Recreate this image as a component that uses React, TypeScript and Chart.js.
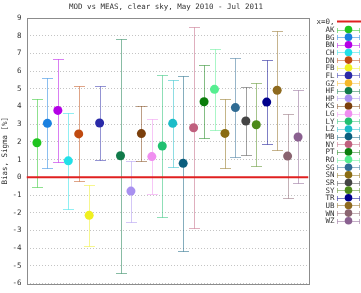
import { useEffect, useRef } from 'react';
import { Chart, registerables } from 'chart.js';
Chart.register(...registerables);

const titleText = 'MOD vs MEAS, clear sky, May 2010 - Jul 2011';
const yLabel = 'Bias, Sigma [%]';
const zeroLabel = 'x=0,';
const stations = ['AK','BG','BN','CH','DN','FB','FL','GZ','HF','HP','KS','LG','LY','LZ','MB','NY','PT','RO','SG','SN','SR','SY','TR','UB','WN','WZ'];
const positions = [1,2,3,4,5,6,7,8,9,10,11,12,13,14,15,16,17,18,20,19,21,22,23,24,25,26];
const bias: (number | null)[] = [1.95,3.05,3.78,0.93,2.45,-2.15,3.07,null,1.22,-0.78,2.47,1.17,1.77,3.05,0.79,2.8,4.27,4.97,3.94,2.48,3.18,2.97,4.25,4.92,1.2,2.28];
const sigma: (number | null)[] = [2.5,2.55,2.93,2.7,2.68,1.72,2.1,null,6.62,1.72,1.57,2.1,4.03,2.47,4.93,5.68,2.07,2.3,2.8,1.96,1.9,2.33,2.38,3.35,2.37,2.63];
const colors = ['#1fc41f','#1a80e0','#b400e6','#22e0e8','#c04a10','#f0f020','#2a2aa8','#f5b82a','#117a4a','#a890f0','#7b3f0c','#f08ef0','#20c070','#1cbcc8','#0b5e7e','#c0607e','#0b7d0b','#55ee90','#2f6b93','#8a6c12','#444444','#4d8a1a','#00008c','#8e6a1e','#8a6470','#8a6090'];
const yTicks = [-6,-5,-4,-3,-2,-1,0,1,2,3,4,5,6,7,8,9];

const FONT = '"DejaVu Sans Mono", monospace';

function withAlpha(hex: string, a: number) {
  const n = parseInt(hex.slice(1), 16);
  return `rgba(${(n >> 16) & 255},${(n >> 8) & 255},${n & 255},${a})`;
}

export default function App() {
  const ref = useRef<HTMLCanvasElement>(null);
  useEffect(() => {
    document.body.style.margin = '0';
    const canvas = ref.current!;

    const datasets: any[] = stations.map((s, i) => ({
      label: s,
      data: bias[i] == null ? [] : [{ x: positions[i], y: bias[i] }],
      backgroundColor: colors[i],
      borderColor: colors[i],
      borderWidth: 0,
      pointRadius: 4.5,
      pointHoverRadius: 4.5,
      order: 1,
    }));
    datasets.unshift({
      label: zeroLabel,
      type: 'line',
      data: [{ x: 0, y: 0 }, { x: 27, y: 0 }],
      borderColor: '#e02020',
      borderWidth: 2,
      pointRadius: 0,
      showLine: true,
      order: 0,
    });

    const decor = {
      id: 'decor',
      beforeDatasetsDraw(chart: any) {
        const { ctx, chartArea: a, scales: { x, y } } = chart;
        ctx.save();
        // frame
        ctx.strokeStyle = '#8c8c8c';
        ctx.lineWidth = 1;
        ctx.strokeRect(Math.round(a.left) + 0.5, Math.round(a.top) + 0.5, Math.round(a.right - a.left), Math.round(a.bottom - a.top));
        // error bars
        stations.forEach((s, i) => {
          const b = bias[i], e = sigma[i];
          if (b == null || e == null) return;
          const px = Math.round(x.getPixelForValue(positions[i])) + 0.5;
          const yt = Math.round(y.getPixelForValue(b + e)) + 0.5;
          const yb = Math.round(y.getPixelForValue(b - e)) + 0.5;
          ctx.strokeStyle = withAlpha(colors[i], 0.5);
          ctx.beginPath();
          ctx.moveTo(px, yt); ctx.lineTo(px, yb);
          ctx.moveTo(px - 5.5, yt); ctx.lineTo(px + 5.5, yt);
          ctx.moveTo(px - 5.5, yb); ctx.lineTo(px + 5.5, yb);
          ctx.stroke();
        });
        ctx.restore();
      },
      afterDraw(chart: any) {
        const { ctx } = chart;
        ctx.save();
        ctx.fillStyle = '#333';
        ctx.font = `7.5px ${FONT}`;
        ctx.textAlign = 'center';
        ctx.textBaseline = 'middle';
        ctx.fillText(titleText, 166, 7);
        // legend
        ctx.textAlign = 'right';
        ctx.fillText(zeroLabel, 334.5, 22);
        ctx.strokeStyle = '#e02020';
        ctx.lineWidth = 2;
        ctx.beginPath();
        ctx.moveTo(337, 21.5); ctx.lineTo(361, 21.5);
        ctx.stroke();
        stations.forEach((s, i) => {
          const yy = 29.5 + i * 7.65;
          ctx.fillStyle = '#333';
          ctx.fillText(s, 334.5, yy + 0.5);
          ctx.strokeStyle = withAlpha(colors[i], 0.5);
          ctx.lineWidth = 1;
          const ly = Math.round(yy) + 0.5;
          ctx.beginPath();
          ctx.moveTo(337.5, ly); ctx.lineTo(359.5, ly);
          ctx.moveTo(337.5, ly - 2.5); ctx.lineTo(337.5, ly + 2.5);
          ctx.moveTo(359.5, ly - 2.5); ctx.lineTo(359.5, ly + 2.5);
          ctx.stroke();
          ctx.fillStyle = colors[i];
          ctx.beginPath();
          ctx.arc(348.5, yy, 3.8, 0, Math.PI * 2);
          ctx.fill();
        });
        ctx.restore();
      },
    };

    const chart = new Chart(canvas, {
      type: 'scatter',
      data: { datasets },
      options: {
        animation: false,
        responsive: false,
        devicePixelRatio: 1,
        layout: { padding: { top: 18, right: 52.5, bottom: 5, left: 0 } },
        plugins: { legend: { display: false }, tooltip: { enabled: false }, title: { display: false } },
        scales: {
          x: { type: 'linear', min: 0, max: 27, display: false },
          y: {
            type: 'linear',
            min: -6,
            max: 9,
            afterFit(scale: any) { scale.width = 26.5; },
            afterBuildTicks(scale: any) { scale.ticks = yTicks.map((v) => ({ value: v })); },
            ticks: { font: { family: FONT, size: 7.5 }, color: '#333', padding: 5 },
            grid: { color: '#c4c4c4', drawTicks: false, lineWidth: 1 },
            border: { display: false, dash: [1, 2] },
            title: { display: true, text: yLabel, font: { family: FONT, size: 7.5 }, color: '#333', padding: { top: 1, bottom: 0 } },
          },
        },
      } as any,
      plugins: [decor],
    });
    return () => chart.destroy();
  }, []);
  return (
    <div style={{ width: 361, height: 293 }}>
      <canvas ref={ref} width={361} height={293} />
    </div>
  );
}
